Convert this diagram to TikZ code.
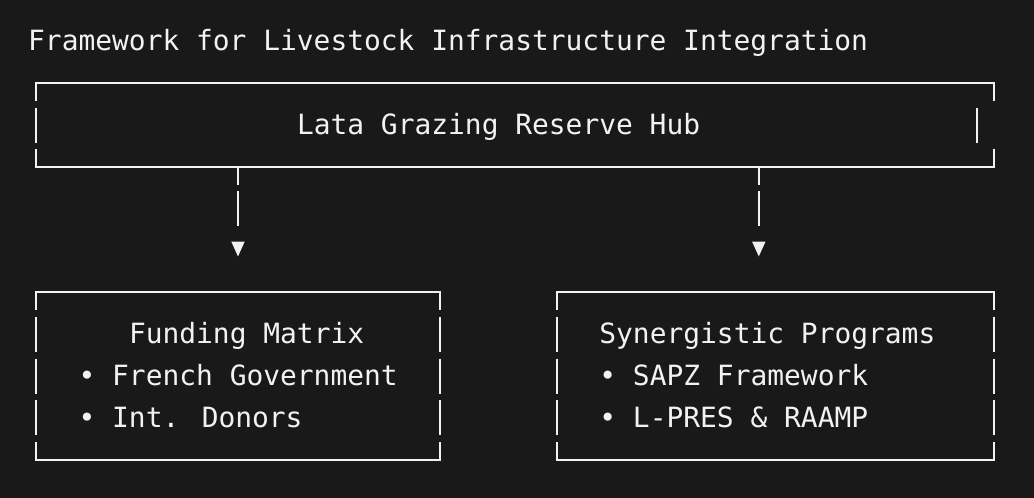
\documentclass[tikz,border=0pt]{standalone}
\usepackage{fontspec}
\usetikzlibrary{arrows.meta}
\newfontfamily\monof{DejaVu Sans Mono}
\definecolor{bgc}{HTML}{191919}
\definecolor{fgc}{HTML}{F2F2F2}
\begin{document}
\begin{tikzpicture}[x=1pt,y=-1pt,
  txt/.style={inner sep=0pt, anchor=base west, text=fgc, font=\monof\fontsize{27.9}{30}\selectfont},
  frame/.style={inner sep=0pt, draw=none},
  edge/.style={draw=fgc, line width=1.9pt},
  conn/.style={draw=fgc, line width=1.9pt, dash pattern=on 17.5pt off 6.65pt on 35pt off 200pt,
    shorten >=35.7pt, -{Triangle[width=13pt,length=15pt]}}]
\fill[bgc] (0,0) rectangle (1034,498);
\useasboundingbox (0,0) rectangle (1034,498);
% frames (named, borders drawn below)
\node[frame, minimum width=957.6pt, minimum height=83.7pt] (hub) at (515.2,125) {};
\node[frame, minimum width=403.2pt, minimum height=167.4pt] (fund) at (238,376.1) {};
\node[frame, minimum width=436.8pt, minimum height=167.4pt] (prog) at (775.6,376.1) {};
% texts
\node[txt] (title) at (28,50.3) {Framework for Livestock Infrastructure Integration};
\node[txt] (hubtxt) at (296.8,134) {Lata Grazing Reserve Hub};
\node[txt] (fundt) at (128.8,343.3) {Funding Matrix};
\node[txt] (fund1) at (78.4,385.1) {• French Government};
\node[txt] (fund2) at (78.4,427) {• Int. Donors};
\node[txt] (progt) at (599.2,343.3) {Synergistic Programs};
\node[txt] (prog1) at (599.2,385.1) {• SAPZ Framework};
\node[txt] (prog2) at (599.2,427) {• L-PRES \& RAAMP};
% hub border
\draw[edge] (36.4,100.65) -- (36.4,83.15) -- (994,83.15) -- (994,100.65);
\draw[edge] (36.4,149.35) -- (36.4,166.85) -- (994,166.85) -- (994,149.35);
\draw[edge] (36.4,107.5) -- (36.4,142.5);
\draw[edge] (977.2,107.5) -- (977.2,142.5);
% funding border
\draw[edge] (36.4,309.9) -- (36.4,292.4) -- (439.6,292.4) -- (439.6,309.9);
\draw[edge] (36.4,442.3) -- (36.4,459.8) -- (439.6,459.8) -- (439.6,442.3);
\foreach \yy in {334.25,376.1,417.95} {
  \draw[edge] (36.4,{\yy-17.5}) -- (36.4,{\yy+17.5});
  \draw[edge] (439.6,{\yy-17.5}) -- (439.6,{\yy+17.5});
}
% programs border
\draw[edge] (557.2,309.9) -- (557.2,292.4) -- (994,292.4) -- (994,309.9);
\draw[edge] (557.2,442.3) -- (557.2,459.8) -- (994,459.8) -- (994,442.3);
\foreach \yy in {334.25,376.1,417.95} {
  \draw[edge] (557.2,{\yy-17.5}) -- (557.2,{\yy+17.5});
  \draw[edge] (994,{\yy-17.5}) -- (994,{\yy+17.5});
}
% connectors
\coordinate (sl) at (238,0);
\coordinate (sr) at (758.8,0);
\draw[conn] (hub.south -| sl) -- (fund.north -| sl);
\draw[conn] (hub.south -| sr) -- (prog.north -| sr);
\end{tikzpicture}
\end{document}
